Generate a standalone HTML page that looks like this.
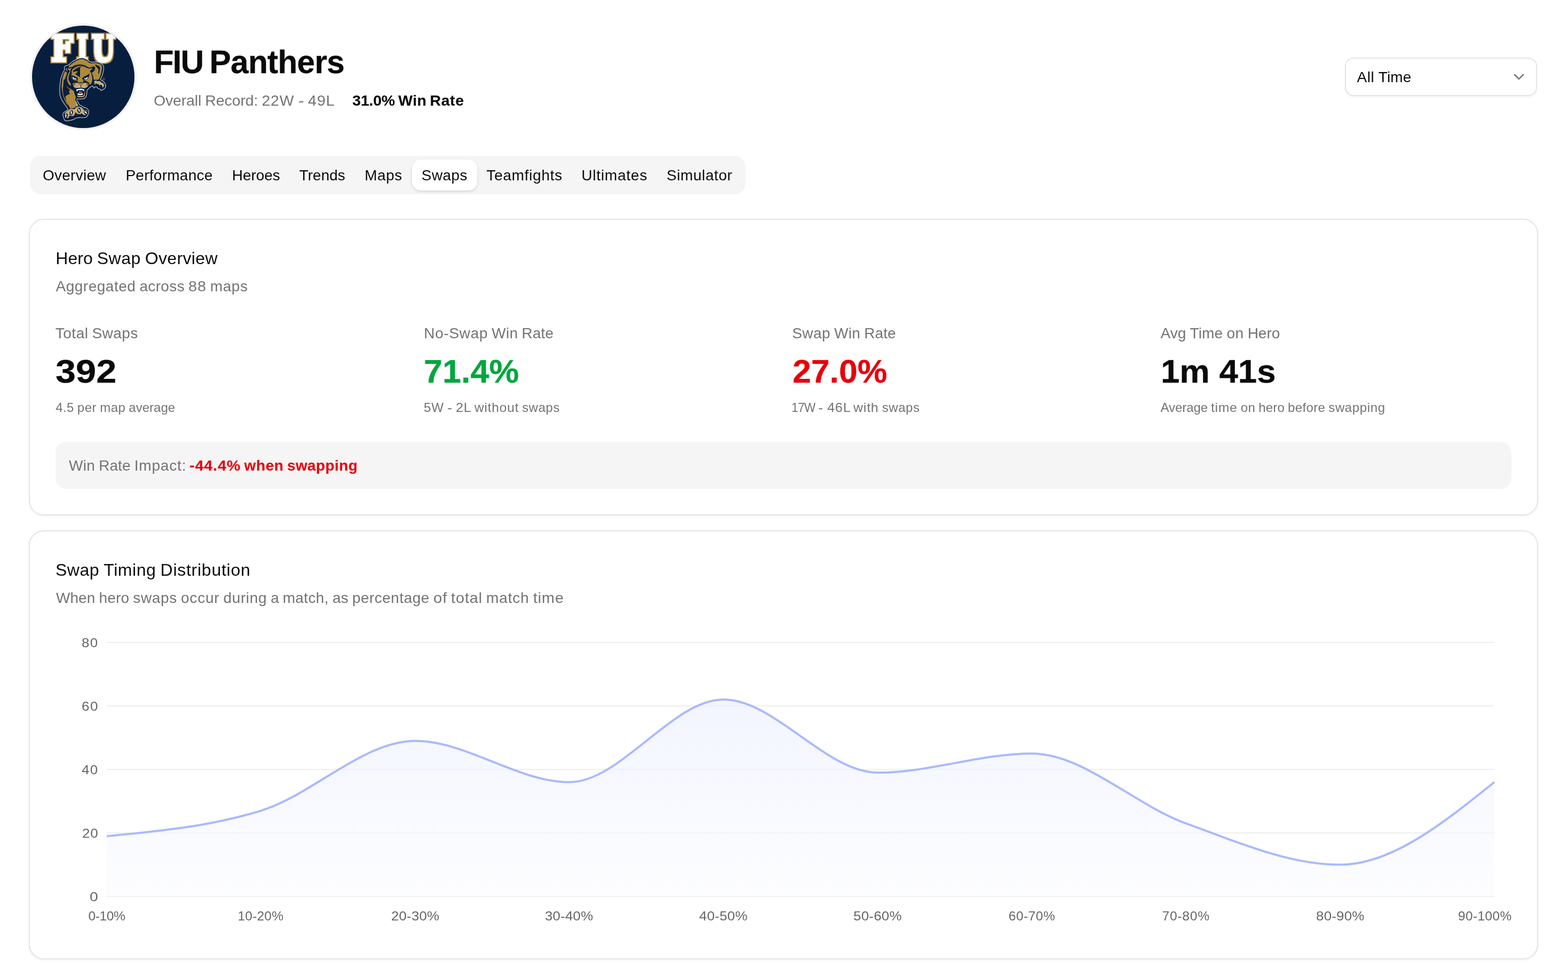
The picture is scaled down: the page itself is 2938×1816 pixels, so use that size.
<!DOCTYPE html>
<html lang="en">
<head>
<meta charset="utf-8">
<title>FIU Panthers - Swaps</title>
<meta name="viewport" content="width=2938, initial-scale=1">
<style>
*{box-sizing:border-box;margin:0;padding:0}
html,body{width:2938px;height:1816px;background:#fff;overflow:hidden}
@media (min-resolution:1.5dppx) and (max-width:1600px){html,body{width:1469px;height:908px}.page{transform:scale(.5);transform-origin:0 0}}
body{font-family:"Liberation Sans", sans-serif;color:#0a0a0a;position:relative}
.page{position:absolute;left:0;top:0;width:2938px;height:1816px;overflow:hidden}
.t{position:absolute;white-space:nowrap;font-weight:400;display:block;transform-origin:0 50%}
.w{display:inline-block;white-space:nowrap;overflow:visible;transform-origin:0 50%}
a{color:inherit;text-decoration:none}
.avatar{position:absolute;left:56px;top:44px;width:200px;height:200px}
.logo{display:block;width:200px;height:200px}
.fiu{font-family:"DejaVu Serif","Liberation Serif",serif;font-weight:700}
.select{position:absolute;left:2520px;top:108px;width:360px;height:72px;border:2px solid #e5e5e5;border-radius:16px;background:#fff;box-shadow:0 2px 4px rgba(0,0,0,.05);font:inherit;color:inherit;text-align:left}
.chev{position:absolute}
.tabs{position:absolute;left:56px;top:292px;width:1340.7px;height:72px;background:#f5f5f5;border-radius:20px}
.tab-active{position:absolute;background:#fff;border-radius:16px;box-shadow:0 2px 6px rgba(0,0,0,.10),0 2px 4px -2px rgba(0,0,0,.10)}
.card{position:absolute;background:#fff;border:2px solid #e5e5e5;border-radius:28px;box-shadow:0 2px 4px rgba(0,0,0,.05)}
.num{font-variant-numeric:tabular-nums}
.impact{position:absolute;background:#f5f5f5;border-radius:20px}
.chart{position:absolute}
.chart svg{position:absolute;left:0;top:0;display:block}
</style>
</head>
<body>
<main class="page">
<header class="hdr">
<div class="avatar"><svg class="logo" viewBox="-4 -4 200 200" role="img" aria-label="FIU Panthers logo"><defs><clipPath id="avc"><circle cx="96" cy="96" r="96"/></clipPath></defs><circle cx="96" cy="96" r="98" fill="none" stroke="#f3f3f3" stroke-width="4"/><circle cx="96" cy="96" r="96" fill="#081e3f"/><g clip-path="url(#avc)"><filter id="fiu-outline" x="-10%" y="-10%" width="120%" height="120%" color-interpolation-filters="sRGB"><feMorphology in="SourceAlpha" operator="dilate" radius="1.50" result="d"/><feFlood flood-color="#b08a3c"/><feComposite operator="in" in2="d" result="g"/><feMerge><feMergeNode in="g"/><feMergeNode in="SourceGraphic"/></feMerge></filter><text class="fiu" y="66.2" font-size="64.6" fill="#ffffff" stroke="#ffffff" stroke-width="5.5" stroke-linejoin="miter" stroke-miterlimit="8" filter="url(#fiu-outline)"><tspan x="36.19" textLength="40.13" lengthAdjust="spacingAndGlyphs">F</tspan><tspan x="84.56" textLength="19.80" lengthAdjust="spacingAndGlyphs">I</tspan><tspan x="112.39" textLength="42.55" lengthAdjust="spacingAndGlyphs">U</tspan></text><path d="M91.7,60.6C94.9,60.4 95.3,60.4 98.5,61.5C101.6,62.5 102.5,63.5 105.2,65.1C107.9,66.7 106.5,67.5 110.1,68.2C113.8,69.0 116.8,67.8 120.9,68.2C125.0,68.7 125.0,68.8 127.7,70.0C130.4,71.3 131.1,71.6 132.6,73.6C134.2,75.6 134.2,75.6 134.4,78.6C134.6,81.5 134.4,82.3 133.5,86.2C132.7,90.1 132.1,91.9 130.8,95.2C129.6,98.6 127.8,98.7 128.1,100.6C128.4,102.5 130.2,101.5 132.2,103.3C134.2,105.1 135.3,105.9 136.7,108.3C138.0,110.6 137.7,112.3 138.0,113.2C138.3,114.1 138.2,111.2 138.0,112.0C137.8,112.8 138.2,114.7 137.1,116.5C136.1,118.3 135.4,118.5 133.5,119.6C131.6,120.8 130.3,121.5 129.0,121.4C127.8,121.3 129.5,120.0 128.1,119.2C126.8,118.4 124.5,118.6 123.2,117.8C121.8,117.1 123.4,116.8 122.3,116.0C121.1,115.3 119.6,114.5 118.2,114.7C116.9,114.9 117.5,117.1 116.4,116.9C115.4,116.8 114.8,115.1 113.7,114.2C112.7,113.4 114.3,111.9 111.9,113.3C109.6,114.8 105.9,117.9 103.8,120.5C101.8,123.2 103.4,122.4 102.9,124.6C102.5,126.8 102.7,127.7 102.1,130.0C101.4,132.3 101.6,132.8 100.3,134.5C98.9,136.2 98.7,136.4 96.2,137.2C93.7,137.9 92.2,137.6 89.5,137.6C86.7,137.6 85.8,136.7 84.5,137.2C83.3,137.7 83.5,138.2 84.1,139.9C84.6,141.6 85.6,142.4 86.8,144.4C87.9,146.4 87.5,147.1 89.0,148.4C90.5,149.8 91.1,149.1 93.1,150.2C95.1,151.4 95.7,152.4 97.6,153.4C99.4,154.3 99.5,153.4 101.2,154.3C102.8,155.1 103.5,155.3 104.7,157.0C106.0,158.6 106.5,159.0 106.5,161.5C106.5,163.9 105.9,165.0 104.7,167.3C103.6,169.6 103.6,170.1 101.6,171.4C99.6,172.6 99.0,172.3 96.2,172.5C93.4,172.7 92.5,172.1 89.5,172.3C86.4,172.4 85.8,172.3 83.2,173.2C80.5,174.0 80.9,174.8 78.2,175.8C75.5,176.9 75.1,177.1 71.5,177.6C67.8,178.2 65.4,179.5 62.5,178.1C59.5,176.7 60.0,174.3 58.9,171.8C57.8,169.3 57.7,169.4 57.8,167.3C57.9,165.2 57.6,164.7 59.3,162.8C61.1,160.9 63.4,160.7 65.2,159.2C67.0,157.7 67.8,159.1 67.0,156.5C66.1,153.9 64.1,151.9 61.6,148.0C59.1,144.1 58.2,143.5 56.2,139.9C54.2,136.2 54.0,136.1 53.0,132.2C52.0,128.4 52.1,128.0 51.9,123.2C51.7,118.5 52.0,115.4 52.1,112.0C52.3,108.6 52.2,111.6 52.6,108.7C53.0,105.8 53.1,103.4 53.9,99.7C54.8,96.0 54.9,96.3 56.2,93.0C57.4,89.6 58.2,87.8 59.3,85.3C60.5,82.8 60.9,83.7 61.1,82.2C61.4,80.6 60.1,80.1 60.5,78.6C60.8,77.0 60.8,76.5 62.5,75.4C64.2,74.4 64.7,76.0 67.9,74.1C71.0,72.2 72.0,70.1 76.0,67.3C80.0,64.6 81.3,64.0 85.0,62.4C88.6,60.8 88.6,60.8 91.7,60.6Z" fill="#081e3f" stroke="#c4c4c4" stroke-width="1.2" stroke-linejoin="round"/><path d="M68.8,77.2C69.1,75.8 72.7,73.0 76.0,70.5C79.2,68.0 81.8,66.3 85.0,64.9C88.1,63.4 89.0,63.2 91.7,63.1C94.4,62.9 95.8,63.1 98.5,64.0C101.2,64.9 103.1,66.3 105.2,67.6C107.3,68.8 105.6,69.7 108.8,70.3C111.9,70.8 117.2,70.0 120.9,70.5C124.7,70.9 125.8,71.5 127.7,72.5C129.6,73.5 129.7,74.0 130.4,75.4C131.1,76.8 131.2,76.9 131.1,79.5C130.9,82.1 130.3,84.9 129.5,88.5C128.6,92.1 127.9,94.9 126.8,97.5C125.7,100.0 126.2,100.3 124.1,101.1C121.9,101.8 117.9,102.2 116.0,101.1C114.1,99.9 115.4,97.5 114.6,95.2C113.9,93.0 113.3,91.4 112.4,89.8C111.5,88.2 109.3,88.6 110.1,87.1C111.0,85.6 114.9,84.0 116.4,82.2C118.0,80.4 118.2,79.2 117.8,78.1C117.3,77.0 116.3,76.7 114.2,76.8C112.1,76.9 110.6,79.0 107.4,78.6C104.3,78.1 102.1,75.7 98.5,74.5C94.9,73.4 93.1,72.7 89.5,72.7C85.9,72.7 83.5,73.5 80.5,74.5C77.4,75.5 76.5,77.1 74.2,77.7C71.8,78.2 68.4,78.7 68.8,77.2Z" fill="#b08a3c"/><path d="M118.2,73.4C119.1,73.0 123.6,74.5 125.4,75.9C127.3,77.3 127.5,77.7 127.5,80.4C127.5,83.1 126.2,87.6 125.4,89.4C124.7,91.2 124.0,90.8 123.9,89.4C123.7,87.9 125.1,84.5 124.5,82.2C123.9,79.8 122.2,79.4 120.9,77.7C119.7,75.9 117.3,73.8 118.2,73.4Z" fill="#081e3f"/><path d="M66.5,80.6L74.2,79.7L70.6,85.3Z" fill="#b08a3c"/><path d="M63.4,79.5L65.2,80.4L66.5,84.9L64.3,84.0Z" fill="#9a9a9a"/><path d="M74.2,85.3C74.7,83.5 75.5,82.4 77.3,80.8C79.1,79.2 80.7,78.3 83.2,77.2C85.6,76.1 87.5,75.7 89.5,75.4C91.4,75.2 91.3,75.7 93.1,76.1C94.9,76.5 95.8,76.4 98.5,77.2C101.2,78.1 103.5,79.7 106.5,80.4C109.6,81.0 113.2,79.4 113.7,80.4C114.3,81.4 109.9,83.6 109.2,85.3C108.6,87.0 109.9,86.5 110.6,88.9C111.3,91.3 112.6,94.0 112.8,97.5C113.1,101.0 112.8,103.8 111.9,106.5C111.0,109.1 109.5,110.5 108.3,110.5C107.2,110.5 108.1,108.1 106.1,106.5C104.1,104.8 100.5,102.9 98.5,102.4C96.4,102.0 96.4,103.5 95.8,104.2C95.1,104.9 97.2,105.6 95.3,106.0C93.4,106.4 88.3,106.8 86.3,106.0C84.3,105.2 86.1,102.5 85.4,102.0C84.7,101.4 84.6,103.3 82.7,103.1C80.8,102.9 77.9,102.6 76.0,100.8C74.1,99.1 73.5,96.5 73.3,94.3C73.0,92.1 74.4,91.6 74.6,89.8C74.8,88.0 73.6,87.1 74.2,85.3Z" fill="#b08a3c"/><path d="M76.4,87.6L77.3,84.0L85.0,79.0L92.6,76.3L90.1,79.5L89.9,95.7L90.8,97.5L80.9,90.7L86.3,86.2L83.2,85.3Z" fill="#081e3f"/><path d="M73.3,93.4C74.4,93.1 78.0,94.3 80.5,95.2C82.9,96.1 84.4,96.7 85.4,97.9C86.4,99.2 86.0,100.9 85.4,101.5C84.8,102.1 84.0,101.3 82.3,101.1C80.6,100.8 78.4,101.0 76.9,100.2C75.3,99.3 75.3,98.4 74.6,97.0C73.9,95.7 72.1,93.8 73.3,93.4Z" fill="#081e3f"/><path d="M107.4,90.7C106.8,90.0 105.6,91.5 102.9,93.0C100.3,94.4 95.8,96.2 94.4,97.9C93.0,99.6 94.9,100.8 95.8,101.5C96.7,102.2 97.3,101.8 98.9,101.5C100.5,101.2 102.4,101.1 103.8,100.2C105.3,99.2 105.4,98.4 106.1,96.6C106.8,94.7 108.1,91.4 107.4,90.7Z" fill="#081e3f"/><path d="M113.7,80.8C115.5,79.5 117.1,78.0 117.8,78.6C118.5,79.1 118.5,81.5 117.3,83.5C116.2,85.5 113.7,88.1 111.9,88.5C110.2,88.8 108.4,86.8 108.8,85.3C109.2,83.8 111.9,82.2 113.7,80.8Z" fill="#081e3f"/><path d="M76.6,96.3C77.2,96.2 77.9,97.5 79.1,97.9C80.3,98.4 82.1,98.1 82.7,98.6C83.3,99.0 83.1,99.8 82.3,100.2C81.5,100.5 79.8,100.5 78.7,100.2C77.5,99.8 76.8,99.1 76.4,98.4C76.0,97.6 76.1,96.4 76.6,96.3Z" fill="#ffffff"/><path d="M103.8,96.3C103.3,96.2 102.3,97.5 101.2,97.9C100.0,98.4 98.5,98.1 98.0,98.6C97.5,99.0 97.6,99.8 98.5,100.2C99.3,100.5 100.9,100.5 102.1,100.2C103.2,99.8 103.7,99.1 104.1,98.4C104.4,97.6 104.4,96.4 103.8,96.3Z" fill="#ffffff"/><circle cx="80.5" cy="97.7" r="1.3" fill="#081e3f"/><circle cx="100.3" cy="97.7" r="1.3" fill="#081e3f"/><path d="M62.0,86.0C63.3,85.1 64.9,86.6 65.2,88.5C65.4,90.3 64.2,92.7 63.4,95.2C62.6,97.7 61.9,99.9 61.1,101.1C60.4,102.2 60.2,100.0 59.8,101.1C59.3,102.1 59.2,103.6 58.9,106.5C58.5,109.3 58.6,113.6 58.0,115.4C57.4,117.2 56.0,118.1 55.7,115.4C55.5,112.7 56.0,106.5 56.6,102.0C57.3,97.5 57.8,96.2 58.9,93.0C60.0,89.8 60.8,86.9 62.0,86.0Z" fill="#b08a3c"/><path d="M69.7,86.7C70.7,85.4 72.0,84.5 71.9,85.8C71.8,87.0 69.9,90.2 69.2,93.0C68.5,95.8 68.2,97.5 68.3,99.7C68.4,102.0 68.8,102.1 69.7,104.2C70.6,106.3 72.5,108.4 72.8,110.1C73.2,111.7 72.6,113.0 71.5,112.3C70.3,111.6 68.1,109.0 67.0,106.5C65.8,103.9 65.6,102.6 65.6,99.7C65.6,96.8 66.2,94.7 67.0,92.1C67.8,89.5 68.7,87.9 69.7,86.7Z" fill="#b08a3c"/><path d="M55.7,112.0C55.9,110.1 57.2,110.1 57.5,112.0C57.9,113.9 57.6,119.9 58.0,123.2C58.4,126.6 58.7,129.2 59.8,132.2C60.8,135.3 63.1,139.1 64.3,141.7C65.5,144.3 66.8,147.1 67.0,148.0C67.1,148.9 66.5,149.3 65.2,147.1C63.9,144.8 60.8,138.5 59.3,134.5C57.9,130.5 57.2,127.0 56.6,123.2C56.0,119.5 55.6,113.9 55.7,112.0Z" fill="#b08a3c"/><path d="M63.4,112.0C63.4,111.8 66.5,115.0 67.9,116.0C69.2,117.1 69.8,117.2 71.5,118.3C73.2,119.4 76.9,121.2 78.2,122.8C79.6,124.4 79.0,125.9 79.6,127.7C80.2,129.5 81.7,131.7 81.8,133.6C82.0,135.5 80.2,137.3 80.5,139.0C80.7,140.6 82.2,141.6 83.2,143.5C84.1,145.3 86.3,148.9 86.3,150.2C86.3,151.5 84.5,150.4 83.2,151.1C81.8,151.9 80.2,154.1 78.2,154.7C76.3,155.3 73.0,155.3 71.5,154.7C70.0,154.1 70.0,152.4 69.2,151.1C68.5,149.8 67.9,149.1 67.0,147.1C66.1,145.0 64.5,141.3 63.8,139.0C63.2,136.7 62.6,134.6 62.9,133.1C63.3,131.6 64.8,130.9 66.1,130.0C67.4,129.1 70.1,128.9 70.6,127.7C71.1,126.6 69.1,124.4 69.2,123.2C69.4,122.0 71.7,121.5 71.5,120.5C71.2,119.6 69.2,118.8 67.9,117.4C66.5,116.0 63.4,112.2 63.4,112.0Z" fill="#b08a3c"/><path d="M81.8,133.6L80.7,139.0L83.4,143.5L86.5,150.2L83.4,151.1L82.3,143.5L79.6,136.3Z" fill="#c9ab74"/><path d="M62.5,162.8C63.8,161.5 67.1,159.5 68.8,158.3C70.4,157.2 70.6,156.1 72.4,155.8C74.2,155.5 77.8,157.0 79.6,156.5C81.4,156.0 81.5,153.4 83.2,152.7C84.8,151.9 87.7,151.8 89.5,152.0C91.3,152.3 92.8,153.4 94.0,154.3C95.2,155.2 95.3,156.7 96.7,157.4C98.0,158.1 100.9,157.6 102.1,158.3C103.2,159.0 103.7,160.2 103.8,161.5C104.0,162.7 103.5,164.9 102.9,166.0C102.4,167.0 101.3,167.5 100.3,167.8C99.2,168.0 97.9,167.8 96.7,167.3C95.5,166.9 94.3,165.3 93.1,165.1C91.9,164.8 90.8,165.9 89.5,166.0C88.1,166.0 86.3,166.0 85.0,165.5C83.6,165.0 82.3,162.5 81.4,162.8C80.5,163.1 80.5,166.2 79.6,167.3C78.7,168.4 77.5,169.3 76.0,169.6C74.5,169.9 71.9,168.5 70.6,169.1C69.2,169.7 68.8,172.5 67.9,173.2C67.0,173.8 65.3,173.9 65.2,173.2C65.0,172.4 66.8,169.9 67.0,168.7C67.1,167.5 67.1,166.4 66.1,166.0C65.1,165.5 61.7,166.5 61.1,166.0C60.5,165.4 61.2,164.1 62.5,162.8Z" fill="#c9ab74"/><g transform="translate(73.5,163.3) rotate(15)"><ellipse rx="3.1" ry="5" fill="#081e3f"/><path d="M-1.6,-3.4Q2,-3.2 1,4Q-2,0 -1.6,-3.4Z" fill="#ffffff"/></g><g transform="translate(88.1,158.8) rotate(-5)"><ellipse rx="3.1" ry="5" fill="#081e3f"/><path d="M-1.6,-3.4Q2,-3.2 1,4Q-2,0 -1.6,-3.4Z" fill="#ffffff"/></g><g transform="translate(100.7,162.8) rotate(-30)"><ellipse rx="3.1" ry="5" fill="#081e3f"/><path d="M-1.6,-3.4Q2,-3.2 1,4Q-2,0 -1.6,-3.4Z" fill="#ffffff"/></g><g transform="translate(63.4,169.3) rotate(25)"><ellipse rx="3.1" ry="5" fill="#081e3f"/><path d="M-1.6,-3.4Q2,-3.2 1,4Q-2,0 -1.6,-3.4Z" fill="#ffffff"/></g><path d="M76.4,108.0C77.7,107.3 82.4,106.8 85.0,107.4C87.5,108.0 89.5,111.6 91.7,111.6C93.9,111.6 95.8,108.0 98.0,107.4C100.3,106.8 103.8,107.3 105.2,108.0C106.5,108.8 106.2,111.2 106.1,111.8C106.0,112.5 105.3,111.4 104.7,112.0C104.2,112.6 104.0,114.8 102.9,115.6C101.9,116.4 100.3,116.8 98.5,116.9C96.6,117.1 94.0,116.4 91.7,116.5C89.5,116.6 87.0,117.5 85.0,117.4C82.9,117.3 80.8,116.9 79.6,116.0C78.3,115.1 77.8,113.3 77.3,112.0C76.8,110.7 75.1,108.8 76.4,108.0Z" fill="#c9ab74"/><path d="M85.4,106.2L97.6,106.2L94.0,110.1L91.7,111.8L89.5,110.1Z" fill="#b08a3c"/><path d="M85.0,106.0L98.0,106.0L91.7,107.8Z" fill="#081e3f"/><path d="M91.7,111.4L91.7,116.5" stroke="#081e3f" stroke-width="1" fill="none"/><path d="M76.4,108.7h5M101.6,108.7h5" stroke="#081e3f" stroke-width="0.9" fill="none"/><path d="M76.4,110.9h5M101.6,110.9h5" stroke="#081e3f" stroke-width="0.9" fill="none"/><path d="M81.8,118.3C83.2,115.9 88.7,116.9 91.7,116.9C94.7,117.0 98.6,116.4 99.8,118.7C101.0,121.1 99.4,128.3 98.9,130.9C98.4,133.4 98.9,133.5 96.7,134.0C94.4,134.6 87.6,134.5 85.4,134.0C83.2,133.6 84.2,134.0 83.6,131.3C83.0,128.7 80.5,120.7 81.8,118.3Z" fill="#081e3f"/><path d="M82.7,119.6L91.7,118.1L98.0,119.6L97.3,123.5L95.5,121.0L85.9,121.0L84.3,123.9Z" fill="#ffffff"/><path d="M87.2,123.9L89.5,123.2L90.8,124.1L92.6,123.2L94.4,124.1L94.0,125.7L88.1,125.7Z" fill="#b08a3c"/><path d="M85.4,127.1C86.1,126.7 88.7,127.7 90.4,127.7C92.0,127.7 94.6,126.7 95.3,127.1C96.0,127.4 95.2,129.2 94.4,129.8C93.6,130.3 91.7,130.2 90.4,130.2C89.0,130.2 87.1,130.3 86.3,129.8C85.5,129.2 84.7,127.4 85.4,127.1Z" fill="#ffffff"/><path d="M84.3,131.1C84.9,130.9 88.7,132.0 90.4,132.0C92.0,132.0 95.6,132.0 96.7,131.1C97.7,130.2 98.1,126.8 98.5,125.5C98.8,124.1 99.3,120.3 99.4,121.0C99.4,121.7 99.3,129.2 98.9,130.9C98.5,132.6 97.3,133.1 96.2,133.6C95.1,134.0 91.7,134.3 90.4,134.3C89.0,134.3 86.7,134.0 85.9,133.6C85.1,133.2 83.7,131.3 84.3,131.1Z" fill="#c9ab74"/><path d="M116.0,104.7C116.2,104.1 118.2,102.9 119.1,102.9C120.1,102.8 122.2,104.1 123.2,104.2C124.2,104.3 125.9,103.5 126.8,103.8C127.7,104.1 129.0,105.9 129.9,106.5C130.8,107.1 132.9,107.5 133.5,108.3C134.2,109.0 134.8,110.9 134.9,111.8C135.0,112.8 134.5,115.2 134.4,115.4C134.4,115.7 134.7,113.7 134.4,113.8C134.2,113.9 133.0,116.5 132.6,116.5C132.3,116.5 132.0,114.4 131.7,113.8C131.5,113.2 131.3,112.2 130.8,111.8C130.3,111.5 128.7,110.8 128.1,110.9C127.6,111.1 127.1,112.9 126.8,112.7C126.4,112.6 125.9,110.0 125.4,109.6C125.0,109.2 123.8,110.2 123.2,110.1C122.6,109.9 121.6,108.3 120.9,108.3C120.3,108.3 118.7,110.2 118.2,110.1C117.8,109.9 117.6,108.1 117.3,107.4C117.0,106.6 115.7,105.3 116.0,104.7Z" fill="#c9ab74"/><path d="M116.4,108.3L117.3,107.8L116.7,110.9ZM125.9,109.2L126.8,108.7L126.6,111.8Z" fill="#ffffff"/><circle cx="134.4" cy="100.2" r="1.7" fill="none" stroke="#c4c4c4" stroke-width="0.6"/></g></svg></div>
<h1 class="t" style="left:288.39px;top:82.00px;font-size:60.5px;line-height:68px;font-weight:700;word-spacing:-4.625px;-webkit-text-stroke:0.30px;"><span class="w" style="width:91.98px;letter-spacing:-1.815px">FIU</span> <span class="w" style="width:252.52px;letter-spacing:-0.799px">Panthers</span></h1>
<p class="rec"><span class="t" style="left:287.93px;top:171.50px;font-size:28.5px;line-height:32px;color:#737373;word-spacing:-0.906px;"><span class="w" style="width:89.3px;letter-spacing:-0.141px">Overall</span> <span class="w" style="width:99.16px;letter-spacing:-0.092px">Record:</span> <span class="w" style="width:61.12px;letter-spacing:0.839px">22W</span> <span class="w" style="width:11.73px;letter-spacing:0.855px;transform:scaleX(1.1332)">-</span> <span class="w" style="width:50.66px;letter-spacing:0.855px;transform:scaleX(1.0105)">49L</span></span><span class="t" style="left:660.37px;top:171.50px;font-size:28.5px;line-height:32px;font-weight:700;word-spacing:-1.531px;-webkit-text-stroke:0.12px;"><span class="w" style="width:79.5px;letter-spacing:-0.263px">31.0%</span> <span class="w" style="width:52.84px;letter-spacing:0.286px">Win</span> <span class="w" style="width:64.19px;letter-spacing:0.602px">Rate</span></span></p>
<button class="select" type="button" aria-haspopup="listbox">
<span class="t" style="left:20.45px;top:18.80px;font-size:28px;line-height:31px;word-spacing:-0.266px;"><span class="w" style="width:32.83px;letter-spacing:0.568px">All</span> <span class="w" style="width:61.67px;letter-spacing:0.121px">Time</span></span>
<svg class="chev" style="left:308px;top:18px" width="32" height="32" viewBox="0 0 24 24" fill="none" stroke="#7c7c7c" stroke-width="2" stroke-linecap="round" stroke-linejoin="round"><path d="m6 9 6 6 6-6"/></svg>
</button>
</header>
<nav class="tabs" role="tablist">
<a class="t tab" style="left:23.95px;top:20.60px;font-size:28px;line-height:31px;letter-spacing:0.259px;">Overview</a>
<a class="t tab" style="left:179.39px;top:20.60px;font-size:28px;line-height:31px;letter-spacing:0.273px;">Performance</a>
<a class="t tab" style="left:378.79px;top:20.60px;font-size:28px;line-height:31px;letter-spacing:-0.054px;">Heroes</a>
<a class="t tab" style="left:504.71px;top:20.60px;font-size:28px;line-height:31px;">Trends</a>
<a class="t tab" style="left:627.22px;top:20.60px;font-size:28px;line-height:31px;letter-spacing:0.559px;">Maps</a>
<span class="tab-active" style="left:715.61px;top:7px;width:122.19px;height:58px"></span>
<a class="t tab" style="left:733.80px;top:20.60px;font-size:28px;line-height:31px;letter-spacing:0.438px;">Swaps</a>
<a class="t tab" style="left:855.53px;top:20.60px;font-size:28px;line-height:31px;letter-spacing:0.691px;">Teamfights</a>
<a class="t tab" style="left:1033.48px;top:20.60px;font-size:28px;line-height:31px;letter-spacing:0.791px;">Ultimates</a>
<a class="t tab" style="left:1193.02px;top:20.60px;font-size:28px;line-height:31px;letter-spacing:0.573px;">Simulator</a>
</nav>
<section class="card" style="left:54px;top:410px;width:2828px;height:556px">
<h2 class="t" style="left:48.37px;top:54.30px;font-size:32px;line-height:36px;word-spacing:-0.875px;"><span class="w" style="width:69.31px;letter-spacing:-0.012px">Hero</span> <span class="w" style="width:82.06px;letter-spacing:0.504px">Swap</span> <span class="w" style="width:136.14px;letter-spacing:0.348px">Overview</span></h2>
<p class="t" style="left:48.45px;top:109.00px;font-size:28px;line-height:31px;color:#737373;word-spacing:-0.766px;"><span class="w" style="width:149.95px;letter-spacing:0.516px">Aggregated</span> <span class="w" style="width:84.59px;letter-spacing:0.354px">across</span> <span class="w" style="width:33.83px;letter-spacing:0.84px;transform:scaleX(1.0302)">88</span> <span class="w" style="width:70.66px;letter-spacing:0.547px">maps</span></p>
<div class="stats">
<div class="stat"><p class="t" style="left:47.73px;top:197.00px;font-size:28px;line-height:31px;color:#737373;word-spacing:-0.766px;"><span class="w" style="width:61.75px;letter-spacing:0.519px">Total</span> <span class="w" style="width:86.19px;letter-spacing:0.428px">Swaps</span></p><p class="t num" style="left:48.43px;top:249.00px;font-size:62px;line-height:69px;font-weight:700;-webkit-text-stroke:0.30px;transform:scaleX(1.1047);">392</p><p class="t" style="left:48.17px;top:338.00px;font-size:24px;line-height:27px;color:#737373;word-spacing:-0.672px;"><span class="w" style="width:34.61px;letter-spacing:0.411px">4.5</span> <span class="w" style="width:36.38px;letter-spacing:0.562px">per</span> <span class="w" style="width:48.22px;letter-spacing:0.51px">map</span> <span class="w" style="width:86.81px;letter-spacing:0.011px">average</span></p></div>
<div class="stat"><p class="t" style="left:738.27px;top:197.00px;font-size:28px;line-height:31px;color:#737373;word-spacing:-0.766px;"><span class="w" style="width:120.09px;letter-spacing:0.703px">No-Swap</span> <span class="w" style="width:49.23px;letter-spacing:0.333px">Win</span> <span class="w" style="width:59.53px;letter-spacing:0.094px">Rate</span></p><p class="t num" style="left:737.99px;top:249.00px;font-size:62px;line-height:69px;font-weight:700;color:#00a63e;-webkit-text-stroke:0.30px;transform:scaleX(1.0147);">71.4%</p><p class="t" style="left:738.38px;top:338.00px;font-size:24px;line-height:27px;color:#737373;word-spacing:-0.672px;"><span class="w" style="width:37.72px;letter-spacing:0.72px;transform:scaleX(1.0074)">5W</span> <span class="w" style="width:10.06px;letter-spacing:0.72px;transform:scaleX(1.154)">-</span> <span class="w" style="width:28.78px;letter-spacing:0.72px;transform:scaleX(1.0561)">2L</span> <span class="w" style="width:83.28px;letter-spacing:0.72px;transform:scaleX(1.0271)">without</span> <span class="w" style="width:70.86px;letter-spacing:0.566px">swaps</span></p></div>
<div class="stat"><p class="t" style="left:1428.19px;top:197.00px;font-size:28px;line-height:31px;color:#737373;word-spacing:-0.766px;"><span class="w" style="width:71.8px;letter-spacing:0.438px">Swap</span> <span class="w" style="width:49.23px;letter-spacing:0.333px">Win</span> <span class="w" style="width:59.53px;letter-spacing:0.094px">Rate</span></p><p class="t num" style="left:1429.20px;top:249.00px;font-size:62px;line-height:69px;font-weight:700;color:#e7000b;-webkit-text-stroke:0.30px;transform:scaleX(1.0091);">27.0%</p><p class="t" style="left:1427.00px;top:338.00px;font-size:24px;line-height:27px;color:#737373;word-spacing:-0.672px;"><span class="w" style="width:44.48px;letter-spacing:-0.72px;transform:scaleX(0.9425)">17W</span> <span class="w" style="width:10.06px;letter-spacing:0.72px;transform:scaleX(1.154)">-</span> <span class="w" style="width:43.66px;letter-spacing:0.72px;transform:scaleX(1.0566)">46L</span> <span class="w" style="width:47.53px;letter-spacing:0.72px;transform:scaleX(1.0431)">with</span> <span class="w" style="width:70.86px;letter-spacing:0.566px">swaps</span></p></div>
<div class="stat"><p class="t" style="left:2118.45px;top:197.00px;font-size:28px;line-height:31px;color:#737373;word-spacing:-0.599px;"><span class="w" style="width:47.94px;letter-spacing:0.062px">Avg</span> <span class="w" style="width:61.67px;letter-spacing:0.121px">Time</span> <span class="w" style="width:32.05px;letter-spacing:0.445px">on</span> <span class="w" style="width:60.66px;letter-spacing:-0.012px">Hero</span></p><p class="t num" style="left:2119.36px;top:250.00px;font-size:61px;line-height:68px;font-weight:700;-webkit-text-stroke:0.30px;transform:scaleX(1.0418);">1m 41s</p><p class="t" style="left:2118.40px;top:338.00px;font-size:24px;line-height:27px;color:#737373;word-spacing:-0.672px;"><span class="w" style="width:88.77px;letter-spacing:-0.029px">Average</span> <span class="w" style="width:49.59px;letter-spacing:0.72px;transform:scaleX(1.0284)">time</span> <span class="w" style="width:27.47px;letter-spacing:0.383px">on</span> <span class="w" style="width:48.78px;letter-spacing:0.184px">hero</span> <span class="w" style="width:70.33px;letter-spacing:0.378px">before</span> <span class="w" style="width:106.33px;letter-spacing:0.615px">swapping</span></p></div>
</div>
<div class="impact" style="left:48px;top:416px;width:2728px;height:88px"></div>
<p class="impact-text"><span class="t" style="left:72.92px;top:445.00px;font-size:28px;line-height:31px;color:#737373;word-spacing:-0.766px;"><span class="w" style="width:49.23px;letter-spacing:0.333px">Win</span> <span class="w" style="width:59.53px;letter-spacing:0.094px">Rate</span> <span class="w" style="width:97.61px;letter-spacing:0.828px">Impact:</span></span><span class="t" style="left:298.93px;top:445.00px;font-size:28px;line-height:31px;font-weight:700;color:#e7000b;word-spacing:-1.391px;-webkit-text-stroke:0.12px;"><span class="w" style="width:96.22px;letter-spacing:0.84px;transform:scaleX(1.0262)">-44.4%</span> <span class="w" style="width:74px;letter-spacing:0.609px">when</span> <span class="w" style="width:132.25px;letter-spacing:0.391px">swapping</span></span></p>
</section>
<section class="card" style="left:54px;top:994px;width:2828px;height:804px">
<h2 class="t" style="left:47.98px;top:54.00px;font-size:32px;line-height:36px;word-spacing:-0.586px;"><span class="w" style="width:82.06px;letter-spacing:0.504px">Swap</span> <span class="w" style="width:97.92px;letter-spacing:0.516px">Timing</span> <span class="w" style="width:168.91px;letter-spacing:0.737px">Distribution</span></h2>
<p class="t" style="left:48.92px;top:109.00px;font-size:28px;line-height:31px;color:#737373;word-spacing:-0.766px;"><span class="w" style="width:73.48px;letter-spacing:0.082px">When</span> <span class="w" style="width:56.91px;letter-spacing:0.215px">hero</span> <span class="w" style="width:82.67px;letter-spacing:0.659px">swaps</span> <span class="w" style="width:72.5px;letter-spacing:0.806px">occur</span> <span class="w" style="width:81.66px;letter-spacing:0.635px">during</span> <span class="w" style="width:15.44px;letter-spacing:-0.141px">a</span> <span class="w" style="width:86.3px;letter-spacing:0.378px">match,</span> <span class="w" style="width:29.94px;letter-spacing:0.18px">as</span> <span class="w" style="width:144.91px;letter-spacing:0.48px">percentage</span> <span class="w" style="width:26.27px;letter-spacing:0.84px;transform:scaleX(1.049)">of</span> <span class="w" style="width:59.06px;letter-spacing:0.84px;transform:scaleX(1.0337)">total</span> <span class="w" style="width:80.67px;letter-spacing:0.84px;transform:scaleX(1.0028)">match</span> <span class="w" style="width:57.86px;letter-spacing:0.84px;transform:scaleX(1.0283)">time</span></p>
<div class="chart" style="left:48px;top:184px;width:2728px;height:560px">
<svg width="2728" height="560" viewBox="0 0 2728 560" role="img" aria-label="Swap timing distribution area chart">
<defs><linearGradient id="fillg" x1="0" y1="0" x2="0" y2="1"><stop offset="0" stop-color="#a3b3ff" stop-opacity="0.13"/><stop offset="1" stop-color="#a3b3ff" stop-opacity="0.025"/></linearGradient></defs>
<g stroke="#eeeeee" stroke-width="2"><line x1="96" x2="2696" y1="500" y2="500"/><line x1="96" x2="2696" y1="381" y2="381"/><line x1="96" x2="2696" y1="262" y2="262"/><line x1="96" x2="2696" y1="143" y2="143"/><line x1="96" x2="2696" y1="24" y2="24"/></g>
<path d="M96.0,387.0C192.3,378.0,288.6,369.1,384.9,339.3C481.2,309.6,577.5,208.5,673.8,208.5C770.1,208.5,866.4,285.8,962.7,285.8C1059.0,285.8,1155.3,131.1,1251.6,131.1C1347.9,131.1,1444.1,268.0,1540.4,268.0C1636.7,268.0,1733.0,232.2,1829.3,232.2C1925.6,232.2,2021.9,328.4,2118.2,363.2C2214.5,397.9,2310.8,440.5,2407.1,440.5C2503.4,440.5,2599.7,363.1,2696.0,285.8L2696,500L96,500Z" fill="#ffffff" fill-opacity="0.55"/>
<path d="M96.0,387.0C192.3,378.0,288.6,369.1,384.9,339.3C481.2,309.6,577.5,208.5,673.8,208.5C770.1,208.5,866.4,285.8,962.7,285.8C1059.0,285.8,1155.3,131.1,1251.6,131.1C1347.9,131.1,1444.1,268.0,1540.4,268.0C1636.7,268.0,1733.0,232.2,1829.3,232.2C1925.6,232.2,2021.9,328.4,2118.2,363.2C2214.5,397.9,2310.8,440.5,2407.1,440.5C2503.4,440.5,2599.7,363.1,2696.0,285.8L2696,500L96,500Z" fill="url(#fillg)"/>
<path d="M96.0,387.0C192.3,378.0,288.6,369.1,384.9,339.3C481.2,309.6,577.5,208.5,673.8,208.5C770.1,208.5,866.4,285.8,962.7,285.8C1059.0,285.8,1155.3,131.1,1251.6,131.1C1347.9,131.1,1444.1,268.0,1540.4,268.0C1636.7,268.0,1733.0,232.2,1829.3,232.2C1925.6,232.2,2021.9,328.4,2118.2,363.2C2214.5,397.9,2310.8,440.5,2407.1,440.5C2503.4,440.5,2599.7,363.1,2696.0,285.8" fill="none" stroke="#a9bafc" stroke-width="4"/>
</svg>
<span class="t" style="left:64.17px;top:486.60px;font-size:24.5px;line-height:27px;color:#666666;transform:scaleX(1.1552);">0</span>
<span class="t" style="left:49.63px;top:367.60px;font-size:24.5px;line-height:27px;color:#666666;letter-spacing:0.823px;transform:scaleX(1.0600);">20</span>
<span class="t" style="left:49.43px;top:248.60px;font-size:24.5px;line-height:27px;color:#666666;letter-spacing:1.273px;transform:scaleX(1.0600);">40</span>
<span class="t" style="left:49.18px;top:129.60px;font-size:24.5px;line-height:27px;color:#666666;letter-spacing:1.545px;transform:scaleX(1.0600);">60</span>
<span class="t" style="left:49.36px;top:10.60px;font-size:24.5px;line-height:27px;color:#666666;letter-spacing:1.176px;transform:scaleX(1.0600);">80</span>
<span class="t" style="left:61.43px;top:523.30px;font-size:24.5px;line-height:27px;color:#666666;letter-spacing:-0.376px;">0-10%</span>
<span class="t" style="left:341.52px;top:523.30px;font-size:24.5px;line-height:27px;color:#666666;letter-spacing:0.197px;">10-20%</span>
<span class="t" style="left:628.70px;top:523.30px;font-size:24.5px;line-height:27px;color:#666666;letter-spacing:0.107px;transform:scaleX(1.0600);">20-30%</span>
<span class="t" style="left:917.41px;top:523.30px;font-size:24.5px;line-height:27px;color:#666666;letter-spacing:0.152px;transform:scaleX(1.0600);">30-40%</span>
<span class="t" style="left:1206.21px;top:523.30px;font-size:24.5px;line-height:27px;color:#666666;letter-spacing:0.206px;transform:scaleX(1.0600);">40-50%</span>
<span class="t" style="left:1495.16px;top:523.30px;font-size:24.5px;line-height:27px;color:#666666;letter-spacing:0.206px;transform:scaleX(1.0600);">50-60%</span>
<span class="t" style="left:1785.74px;top:523.30px;font-size:24.5px;line-height:27px;color:#666666;letter-spacing:0.519px;">60-70%</span>
<span class="t" style="left:2073.47px;top:523.30px;font-size:24.5px;line-height:27px;color:#666666;letter-spacing:0.800px;">70-80%</span>
<span class="t" style="left:2361.59px;top:523.30px;font-size:24.5px;line-height:27px;color:#666666;letter-spacing:0.178px;transform:scaleX(1.0600);">80-90%</span>
<span class="t" style="left:2628.00px;top:523.30px;font-size:24.5px;line-height:27px;color:#666666;letter-spacing:0.350px;">90-100%</span>
</div>
</section>
</main>
</body>
</html>
